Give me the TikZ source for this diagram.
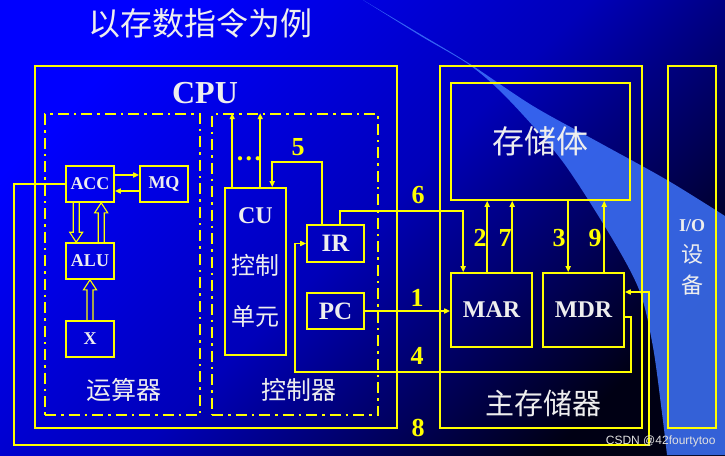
\documentclass[tikz,border=0pt]{standalone}
\usepackage{fontspec}
\setmainfont{Liberation Serif}
\newfontfamily\cjk{Noto Sans CJK SC}
\newfontfamily\wmfont{Liberation Sans}
\usetikzlibrary{arrows.meta, calc, positioning}

\definecolor{yel}{RGB}{255,255,0}
\definecolor{bgA}{RGB}{0,0,255}
\definecolor{bgB}{RGB}{0,0,185}
\definecolor{bgC}{RGB}{0,0,20}
\definecolor{wedge}{RGB}{62,115,250}
\definecolor{txtc}{RGB}{238,238,238}

% outlined arrow between two points on one vertical
\newcommand{\hollowarrow}[2]{%
  \draw[fat] let \p1=(#1), \p2=(#2), \n1={sign(\y2-\y1)} in
    (\x1-3pt,\y1) -- (\x1-3pt,\y2-\n1*10pt) -- (\x1-6.5pt,\y2-\n1*10pt)
    -- (\x2,\y2) -- (\x1+6.5pt,\y2-\n1*10pt) -- (\x1+3pt,\y2-\n1*10pt)
    -- (\x1+3pt,\y1);}

\begin{document}
\begin{tikzpicture}[x=1pt, y=-1pt,
  box/.style={draw=yel, line width=1.6pt, inner sep=0pt, text=txtc},
  unit/.style={draw=yel, line width=1.6pt, dash pattern=on 11pt off 5pt on 2.5pt off 5pt},
  arr/.style={draw=yel, line width=1.5pt, -{Triangle[length=6pt, width=5pt]}},
  fat/.style={draw=yel, line width=1.1pt, line join=miter},
  num/.style={text=yel, font=\bfseries\fontsize{26}{26}\selectfont},
  lbl/.style={text=txtc, font=\cjk\fontsize{25}{25}\selectfont}
]

% Background
\useasboundingbox (0,0) rectangle (725,455);
\shade[top color=bgA, bottom color=bgC, middle color=bgB, shading angle=45] (0,0) rectangle (725,455);
\fill[wedge, fill opacity=0.85] plot[smooth] coordinates {(363,0) (420,34) (470,64) (533,106) (600,143) (667,180) (725,216)}
  -- (725,455) -- (667,455)
  -- plot[smooth] coordinates {(667,455) (662,413) (653,347) (640,292) (613,240) (563,162) (510,101) (471,66) (420,35.5) (363,0)} -- cycle;

% Title
\node[lbl, font=\cjk\fontsize{32}{32}\selectfont] (title) at (200,23) {以存数指令为例};

% --- CPU ---
\node[box, minimum width=362pt, minimum height=362pt] (cpu) at (216,247) {};
\node[text=txtc, font=\bfseries\fontsize{32}{32}\selectfont, anchor=base] (cputext) at (205,103) {CPU};
\node[unit, minimum width=155pt, minimum height=301pt] (aluunit) at (122.5,264.5) {};
\node[unit, minimum width=166pt, minimum height=301pt] (ctrlunit) at (295,264.5) {};
\node[lbl] (alutext) at (124,390) {运算器};
\node[lbl] (ctrltext) at (299,390) {控制器};

% Arithmetic unit
\node[box, font=\bfseries\fontsize{18}{18}\selectfont, minimum width=48pt, minimum height=36pt] (acc) at (90,184) {ACC};
\node[box, font=\bfseries\fontsize{18}{18}\selectfont, minimum width=48pt, minimum height=36pt] (mq) at (164,184) {MQ};
\node[box, font=\bfseries\fontsize{18}{18}\selectfont, minimum width=48pt, minimum height=36pt] (alu) at (90,261) {ALU};
\node[box, font=\bfseries\fontsize{18}{18}\selectfont, minimum width=48pt, minimum height=36pt] (x) at (90,339) {X};

% Control unit
\node[box, minimum width=61pt, minimum height=167pt] (cu) at (255.5,271.5) {};
\node[text=txtc, align=center, font=\fontsize{24}{51}\selectfont] (cutext) at (255.5,267) {\bfseries CU\\{\cjk 控制}\\{\cjk 单元}};
\node[box, font=\bfseries\fontsize{25}{25}\selectfont, minimum width=57pt, minimum height=37pt] (ir) at (335.5,243.5) {IR};
\node[box, font=\bfseries\fontsize{25}{25}\selectfont, minimum width=57pt, minimum height=36pt] (pc) at (335.5,311) {PC};
\node[text=yel, font=\bfseries\fontsize{26}{26}\selectfont] (dots) at (249,159) {.\kern2.5pt.\kern2.5pt.};

% --- Main memory ---
\node[box, minimum width=202pt, minimum height=362pt] (mainmem) at (541,247) {};
\node[lbl, font=\cjk\fontsize{29}{29}\selectfont] (mmtext) at (543,403) {主存储器};
\node[box, font=\cjk\fontsize{32}{32}\selectfont, minimum width=179pt, minimum height=117pt] (mem) at (540.5,141.5) {存储体};
\node[box, font=\bfseries\fontsize{24}{24}\selectfont, minimum width=81pt, minimum height=74pt] (mar) at (491.5,310) {MAR};
\node[box, font=\bfseries\fontsize{24}{24}\selectfont, minimum width=81pt, minimum height=74pt] (mdr) at (583.5,310) {MDR};

% --- I/O ---
\node[box, minimum width=48pt, minimum height=362pt] (io) at (692,247) {};
\node[text=txtc, align=center, font=\fontsize{22}{31}\selectfont] (iotext) at (692,257) {{\bfseries\fontsize{18}{31}\selectfont I/O}\\{\cjk 设}\\{\cjk 备}};

% --- Inside the arithmetic unit ---
\draw[arr] ($(acc.east)+(0,-9)$) -- ($(mq.west)+(0,-9)$);
\draw[arr] ($(mq.west)+(0,7)$) -- ($(acc.east)+(0,7)$);
\coordinate (accdown) at ($(acc.south west)+(11,0)$);
\coordinate (accup) at ($(acc.south west)+(36,0)$);
\hollowarrow{accdown}{accdown |- alu.north}
\hollowarrow{accup |- alu.north}{accup}
\hollowarrow{x.north}{alu.south}

% --- Control signals ---
\coordinate (cuA) at ($(cu.north west)+(8,0)$);
\coordinate (cuB) at ($(cu.north west)+(36,0)$);
\draw[arr] (cuA) -- (cuA |- ctrlunit.north);
\draw[arr] (cuB) -- (cuB |- ctrlunit.north);

% --- Numbered steps ---
\coordinate (ir5) at ($(ir.north west)+(16,0)$);
\coordinate (cu5) at ($(cu.north west)+(48,0)$);
\draw[arr] (ir5) -- ++(0,-62) -| (cu5);
\coordinate (ir6) at ($(ir.north west)+(34,0)$);
\coordinate (mar6) at ($(mar.north west)+(13,0)$);
\draw[arr] (ir6) -- ++(0,-13) -| (mar6);
\draw[arr] (pc.east) -- (pc.east -| mar.west);
\coordinate (mdr4) at ($(mdr.east)+(0,7)$);
\draw[arr] (mdr4) -| ($(mdr.east)+(6,62)$) -| ($(ir.west)+(-11,0)$) -- (ir.west);
\draw[arr] (acc.west) -- ++(-51,0) -- ++(0,261) -| ($(mdr.east)+(24,-18)$) -- ($(mdr.east)+(0,-18)$);
\coordinate (mar2) at ($(mar.north west)+(37,0)$);
\coordinate (mar7) at ($(mar.north west)+(62,0)$);
\coordinate (mdr3) at ($(mdr.north west)+(26,0)$);
\coordinate (mdr9) at ($(mdr.north west)+(62,0)$);
\draw[arr] (mar2) -- (mar2 |- mem.south);
\draw[arr] (mar7) -- (mar7 |- mem.south);
\draw[arr] (mdr3 |- mem.south) -- (mdr3);
\draw[arr] (mdr9) -- (mdr9 |- mem.south);

\node[num] (n1) at (417,298) {1};
\node[num] (n2) at (480,238) {2};
\node[num] (n3) at (559,238) {3};
\node[num] (n4) at (417,356) {4};
\node[num] (n5) at (298,147) {5};
\node[num] (n6) at (418,195) {6};
\node[num] (n7) at (505,238) {7};
\node[num] (n8) at (418,428) {8};
\node[num] (n9) at (595,238) {9};

% Watermark
\node[text=gray!25, font=\wmfont\fontsize{12}{12}\selectfont, anchor=east] (wm) at (719,441) {CSDN @42fourtytoo};

\end{tikzpicture}
\end{document}
